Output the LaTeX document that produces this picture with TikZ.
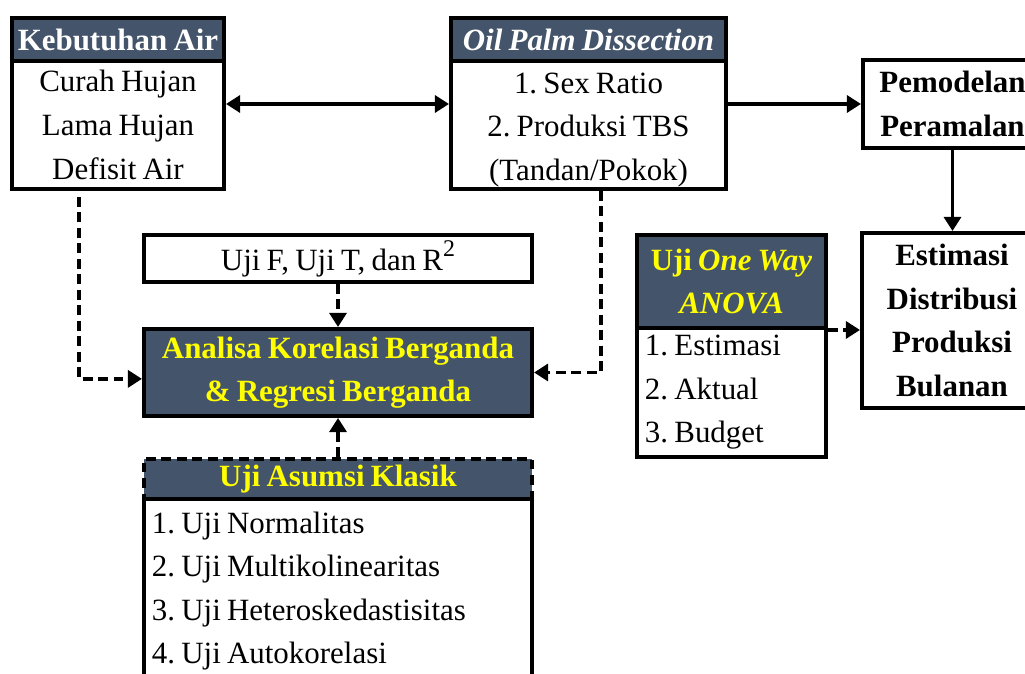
\documentclass[tikz,border=0pt]{standalone}
\usepackage{fontspec}
\setmainfont{Liberation Serif}[WordSpace=0.8]
\usetikzlibrary{arrows.meta}
\definecolor{hdrblue}{HTML}{44546A}
\definecolor{hdryellow}{HTML}{FFFF00}
\newcommand\boxfont{\fontsize{22}{31}\selectfont}
\frenchspacing
\tikzset{
  box/.style={draw, line width=2.8pt, inner sep=0pt, anchor=north west, align=center, font=\boxfont},
  hdr/.style={box, fill=hdrblue, text=white, font=\boxfont\bfseries},
  hdrY/.style={box, fill=hdrblue, text=hdryellow, font=\boxfont\bfseries},
  listbox/.style={box, align=flush left, inner xsep=0.2cm},
  tip/.style={-{Triangle[length=10pt,width=12pt]}},
  link/.style={line width=2.6pt, tip},
  dlink/.style={link, dash pattern=on 7pt off 4pt}
}
\begin{document}
\begin{tikzpicture}[x=0.025cm, y=-0.025cm]
\useasboundingbox (0,0) rectangle (1025,673);
\clip (0,0) rectangle (1025,673);
\node[hdr, minimum width=5.3cm, minimum height=1.075cm] (kebHead) at (10,16) {Kebutuhan Air};
\node[box, fill=white, minimum width=5.3cm, minimum height=3.2cm] (kebBody) at (10,59) {Curah Hujan\\Lama Hujan\\Defisit Air};
\node[hdr, minimum width=6.875cm, minimum height=1.075cm] (oilHead) at (449,16) {\textit{Oil Palm Dissection}};
\node[box, fill=white, minimum width=6.875cm, minimum height=3.2cm] (oilBody) at (449,59) {\strut1. Sex Ratio\\2. Produksi TBS\\(Tandan/Pokok)};
\node[box, font=\boxfont\bfseries, minimum width=4.475cm, minimum height=2.2cm] (pemodelan) at (861,58) {Pemodelan\\Peramalan};
\node[box, font=\boxfont\bfseries, minimum width=4.5cm, minimum height=4.375cm] (estimasi) at (860,231) {Estimasi\\Distribusi\\Produksi\\Bulanan};
\node[box, minimum width=9.7cm, minimum height=1.175cm] (ujiF) at (142,233) {Uji F, Uji T, dan R\raisebox{0.45em}{\fontsize{17}{17}\selectfont 2}};
\node[hdrY, minimum width=9.7cm, minimum height=2.175cm] (analisa) at (142,327) {Analisa Korelasi Berganda\\\& Regresi Berganda};
\node[hdrY, dash pattern=on 7pt off 4pt, minimum width=9.7cm, minimum height=1.0cm] (asumsiHead) at (142,457) {Uji Asumsi Klasik};
\node[listbox, text width=9.3cm, minimum height=4.6cm] (asumsiBody) at (142,497) {1. Uji Normalitas\\2. Uji Multikolinearitas\\3. Uji Heteroskedastisitas\\4. Uji Autokorelasi};
\node[hdrY, minimum width=4.725cm, minimum height=2.325cm] (anovaHead) at (635,233) {Uji \textit{One Way}\\\textit{ANOVA}};
\node[listbox, text width=4.325cm, minimum height=3.225cm] (anovaBody) at (635,326) {1. Estimasi\\2. Aktual\\3. Budget};
\draw[link, {Triangle[length=10pt,width=12pt]}-{Triangle[length=10pt,width=12pt]}] ([yshift=0.525cm]kebBody.east) -- ([yshift=0.525cm]oilBody.west);
\draw[link] ([yshift=0.525cm]oilBody.east) -- (pemodelan.west);
\draw[link] (pemodelan.south) -- (pemodelan.south |- estimasi.north);
\draw[dlink] ([xshift=-0.975cm,yshift=-0.15cm]kebBody.south) |- ([yshift=-0.16cm]analisa.west);
\draw[dlink] ([xshift=0.31cm]oilBody.south) |- (analisa.east);
\draw[dlink] (ujiF.south) -- (analisa.north);
\draw[dlink] (asumsiHead.north) -- (analisa.south);
\draw[dlink] (anovaHead.south east) -- (estimasi.west |- anovaHead.south east);
\end{tikzpicture}
\end{document}
